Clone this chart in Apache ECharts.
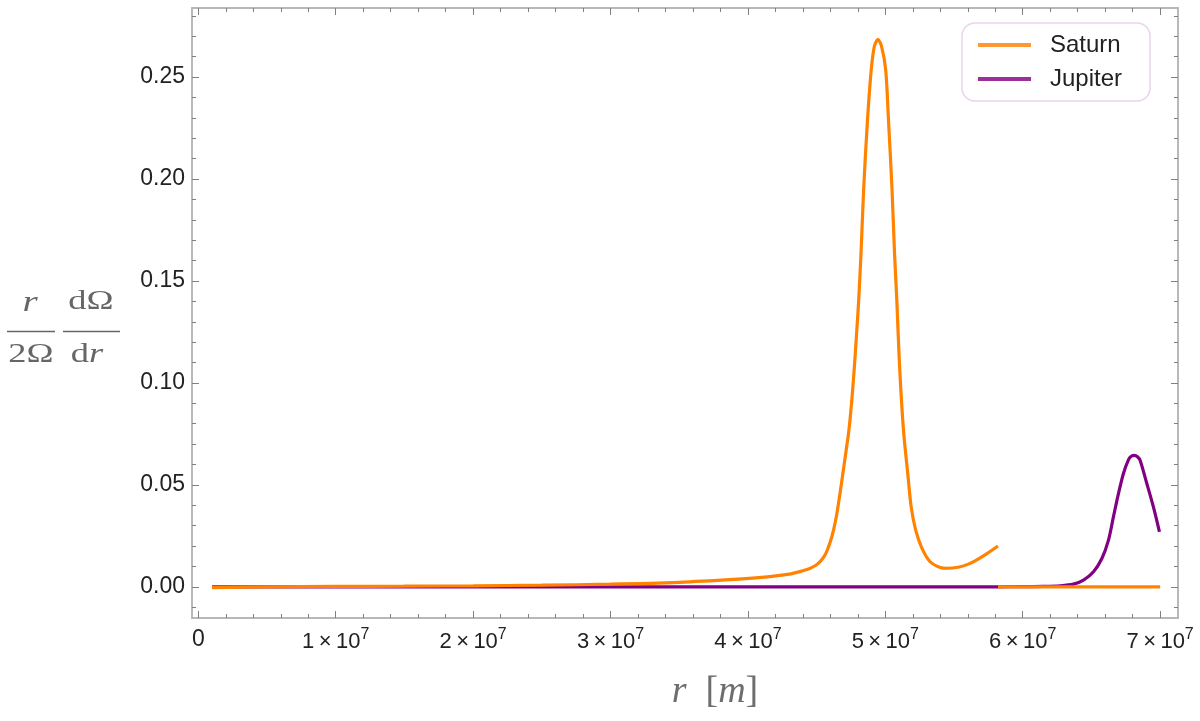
<!DOCTYPE html>
<html><head><meta charset="utf-8">
<script src="https://cdn.jsdelivr.net/npm/echarts@6/dist/echarts.min.js"></script>
<style>html,body{margin:0;padding:0;background:#fff}#c{width:1200px;height:721px}</style>
</head><body><div id="c"></div>
<script>
// ---- tick values & labels ----
const xTicks = [0, 1e7, 2e7, 3e7, 4e7, 5e7, 6e7, 7e7];
const xTickMantissa = ['0', '1', '2', '3', '4', '5', '6', '7'];
const yTicks = [0, 0.05, 0.10, 0.15, 0.20, 0.25];
const yTickLabels = ['0.00', '0.05', '0.10', '0.15', '0.20', '0.25'];

// ---- Saturn (r in m, value) ----
const saturnR = [0.1e7, 0.5e7, 1.0e7, 1.5e7, 2.0e7, 2.5e7, 3.0e7, 3.5e7, 3.9e7, 4.1e7, 4.30e7, 4.40e7,
  4.45e7, 4.50e7, 4.54e7, 4.57e7, 4.60e7, 4.623e7, 4.645e7, 4.665e7, 4.684e7, 4.700e7, 4.715e7, 4.735e7,
  4.756e7, 4.775e7, 4.791e7, 4.806e7, 4.823e7, 4.843e7, 4.870e7, 4.897e7, 4.920e7, 4.946e7, 4.973e7,
  5.003e7, 5.023e7, 5.048e7, 5.067e7, 5.084e7, 5.103e7, 5.132e7, 5.163e7, 5.188e7, 5.221e7, 5.266e7,
  5.326e7, 5.399e7, 5.450e7, 5.530e7, 5.60e7, 5.66e7, 5.74e7, 5.82e7];
const saturnV = [-0.0004, 0.0000, 0.0002, 0.0003, 0.0005, 0.0008, 0.0013, 0.0022, 0.0036, 0.0046, 0.0062, 0.0079,
  0.0090, 0.0108, 0.0135, 0.0168, 0.0222, 0.0278, 0.0350, 0.0435, 0.0523, 0.0598, 0.0670, 0.0768,
  0.0915, 0.1082, 0.1244, 0.1405, 0.1636, 0.1960, 0.2288, 0.2533, 0.2650, 0.2685, 0.2650,
  0.2533, 0.2288, 0.1960, 0.1636, 0.1400, 0.1090, 0.0768, 0.0557, 0.0392, 0.0278, 0.0190,
  0.0123, 0.0095, 0.0091, 0.0096, 0.0110, 0.0130, 0.0163, 0.0200];
// Saturn beyond its radius (zero branch)
const saturnTailR = [5.82e7, 7.0e7];
const saturnTailV = [0, 0];

// ---- Jupiter ----
const jupiterR = [0.1e7, 5.82e7, 6.0e7, 6.15e7, 6.272e7, 6.369e7, 6.442e7, 6.515e7, 6.576e7, 6.624e7, 6.660e7,
  6.697e7, 6.733e7, 6.770e7, 6.790e7, 6.813e7, 6.835e7, 6.854e7, 6.903e7, 6.951e7, 6.995e7];
const jupiterV = [0, 0, 0.0001, 0.0002, 0.0005, 0.0013, 0.0033, 0.0074, 0.0139, 0.0229, 0.0343,
  0.0458, 0.0556, 0.0624, 0.0640, 0.0645, 0.0638, 0.0621, 0.0507, 0.0392, 0.0270];

const XMIN = -460000, XMAX = 71300000;
const YMIN = -0.0153, YMAX = 0.2839;

const xMinor = [];
for (let k = 0; k * 2e6 <= XMAX; k++) xMinor.push(k * 2e6);
const yMinor = [];
for (let k = -1; k * 0.01 <= YMAX; k++) yMinor.push(k / 100);

const saturnData = saturnR.map((r, i) => [r, saturnV[i]])
  .concat([[5.82e7, '-']])
  .concat(saturnTailR.map((r, i) => [r, saturnTailV[i]]));
const jupiterData = jupiterR.map((r, i) => [r, jupiterV[i]]);

const FRAME = '#b4b4b4', TICK = '#808080';
const FONT = 'Liberation Sans';

function xAx(pos, vals, len, labels) {
  return {
    type: 'value', position: pos, min: XMIN, max: XMAX,
    axisLine: { show: true, onZero: false, lineStyle: { color: FRAME, width: 1.5 } },
    axisTick: { show: true, inside: true, length: len, customValues: vals, lineStyle: { color: TICK, width: 1 } },
    axisLabel: labels ? {
      show: true, customValues: xTicks, margin: 9,
      formatter: v => {
        const i = xTicks.findIndex(t => Math.abs(t - v) < 1);
        if (i === 0) return '{p|0}';
        return '{b|' + xTickMantissa[i] + '\u2009\u00d7\u200910}{s|7}';
      },
      rich: {
        p: { fontSize: 23, fontFamily: FONT, color: '#222', lineHeight: 26 },
        b: { fontSize: 22, fontFamily: FONT, color: '#222', lineHeight: 26, verticalAlign: 'bottom' },
        s: { fontSize: 16, fontFamily: FONT, color: '#222', lineHeight: 16, verticalAlign: 'top' }
      }
    } : { show: false },
    splitLine: { show: false }, minorTick: { show: false }
  };
}
function yAx(pos, vals, len, labels) {
  return {
    type: 'value', position: pos, min: YMIN, max: YMAX,
    axisLine: { show: true, onZero: false, lineStyle: { color: FRAME, width: 1.5 } },
    axisTick: { show: true, inside: true, length: len, customValues: vals, lineStyle: { color: TICK, width: 1 } },
    axisLabel: labels ? {
      show: true, customValues: yTicks, margin: 7, fontSize: 23, fontFamily: FONT, color: '#222',
      formatter: v => {
        const i = yTicks.findIndex(t => Math.abs(t - v) < 1e-6);
        return i >= 0 ? yTickLabels[i] : '';
      }
    } : { show: false },
    splitLine: { show: false }, minorTick: { show: false }
  };
}

const chart = echarts.init(document.getElementById('c'), null, { renderer: 'canvas' });
chart.setOption({
  animation: false,
  backgroundColor: '#fff',
  grid: { left: 192, right: 22, top: 8, bottom: 103, containLabel: false },
  xAxis: [xAx('bottom', xTicks, 7, true), xAx('bottom', xMinor, 4, false), xAx('top', xTicks, 7, false), xAx('top', xMinor, 4, false)],
  yAxis: [yAx('left', yTicks, 7, true), yAx('left', yMinor, 4, false), yAx('right', yTicks, 7, false), yAx('right', yMinor, 4, false)],
  legend: {
    data: ['Saturn', 'Jupiter'], orient: 'vertical', left: 962, top: 23,
    padding: [10, 28, 10, 16], itemGap: 10, itemWidth: 53, itemHeight: 4, icon: 'rect',
    borderColor: '#ead3ea', borderWidth: 1.5, borderRadius: 13, backgroundColor: '#fff',
    textStyle: { fontSize: 24, fontFamily: FONT, color: '#222', padding: [0, 0, 0, 14] }
  },
  series: [
    { name: 'Jupiter', type: 'line', data: jupiterData, xAxisIndex: 0, yAxisIndex: 0, showSymbol: false, symbol: 'none',
      smooth: 0.3,
      lineStyle: { color: '#820082', width: 3.2 }, itemStyle: { color: '#9a309a' }, z: 2 },
    { name: 'Saturn', type: 'line', data: saturnData, xAxisIndex: 0, yAxisIndex: 0, showSymbol: false, symbol: 'none',
      connectNulls: false, smooth: 0.3,
      lineStyle: { color: '#ff8200', width: 3.2 }, itemStyle: { color: '#ff9833' }, z: 3 }
  ],
  graphic: [
    { type: 'text', x: 715, y: 692, style: {
        text: '{i|r}{n|\u2002[}{i|m}{n|]}', align: 'center', verticalAlign: 'middle',
        rich: {
          i: { fontSize: 38, fontFamily: 'Liberation Serif', fontStyle: 'italic', fill: '#6e6e6e' },
          n: { fontSize: 38, fontFamily: 'Liberation Serif', fill: '#6e6e6e' }
        } } },
    { type: 'text', x: 30, y: 303, scaleX: 1.3, style: { text: 'r', fontSize: 30, fontFamily: 'Liberation Serif', fontStyle: 'italic', fill: '#666', align: 'center', verticalAlign: 'middle' } },
    { type: 'line', shape: { x1: 7, y1: 331.5, x2: 55, y2: 331.5 }, style: { stroke: '#666', lineWidth: 1.5 } },
    { type: 'text', x: 31, y: 355, scaleX: 1.3, style: { text: '2\u03a9', fontSize: 28, fontFamily: 'Liberation Serif', fill: '#666', align: 'center', verticalAlign: 'middle' } },
    { type: 'text', x: 91, y: 302, scaleX: 1.3, style: { text: 'd\u03a9', fontSize: 28, fontFamily: 'Liberation Serif', fill: '#666', align: 'center', verticalAlign: 'middle' } },
    { type: 'line', shape: { x1: 63, y1: 331.5, x2: 120, y2: 331.5 }, style: { stroke: '#666', lineWidth: 1.5 } },
    { type: 'text', x: 87, y: 355, scaleX: 1.3, style: {
        text: '{n|d}{i|r}', align: 'center', verticalAlign: 'middle',
        rich: {
          n: { fontSize: 28, fontFamily: 'Liberation Serif', fill: '#666' },
          i: { fontSize: 28, fontFamily: 'Liberation Serif', fontStyle: 'italic', fill: '#666' }
        } } }
  ]
});
</script>
</body></html>
